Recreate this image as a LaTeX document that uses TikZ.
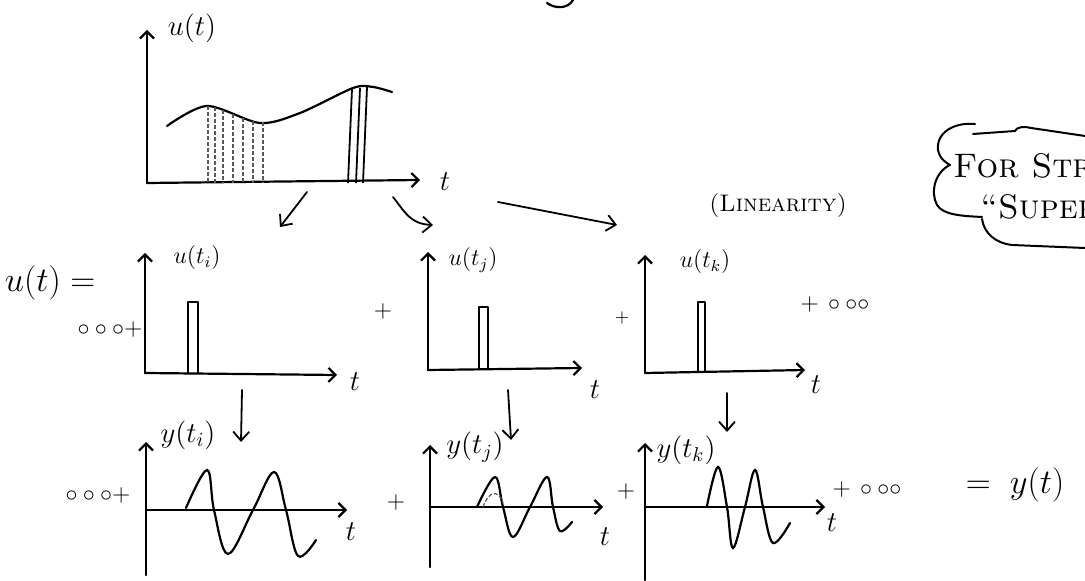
\documentclass[tikz,border=0pt]{standalone}
\usetikzlibrary{arrows.meta}
\begin{document}
\begin{tikzpicture}[x=0.5pt,y=-0.5pt,
  ln/.style={line width=1.1pt, line cap=round, line join=round},
  ax/.style={ln,-{Straight Barb[length=3.5pt,width=7pt]}},
  arr/.style={line width=0.9pt, line cap=round,-{Straight Barb[length=4.5pt,width=8pt]}},
  wave/.style={line width=1.1pt, line cap=round},
  pulse/.style={line width=0.9pt, line join=round},
  lbl/.style={inner sep=0pt,font=\fontsize{12}{12}\selectfont},
  ylbl/.style={inner sep=0pt,font=\fontsize{14}{14}\selectfont},
  tl/.style={inner sep=0pt,font=\fontsize{14}{14}\selectfont},
  big/.style={inner sep=0pt,font=\fontsize{17}{17}\selectfont},
  opn/.style={inner sep=0pt,font=\fontsize{12}{12}\selectfont},
  faint/.style={line width=0.6pt,dash pattern=on 2pt off 1pt,black!65}]
\useasboundingbox (0,0) rectangle (1085,581);
\clip (0,0) rectangle (1085,581);

% fragment at top edge
\draw[ln] (547,3) .. controls (555,9) and (568,9) .. (573,0);

% ---------- top plot ----------
\coordinate (o0) at (147,183);
\coordinate (y0) at (147,30);
\coordinate (x0) at (420,180);
\draw[ax] (o0) -- (y0);
\draw[ax] (o0) -- (x0);
\node[inner sep=0pt,font=\fontsize{15}{15}\selectfont] (ut) at (192,28) {$u(t)$};
\node[tl] (t0) at (445,182) {$t$};
\draw[wave] plot[smooth] coordinates {(167,126) (207,106) (260,123) (300,113) (353,88) (373,87) (392,92)};
\foreach \x/\y in {208/106,215/107,223/110,233/114,243/118,253/121,263/122}
  \draw[faint] (\x,\y) -- (\x,183);
\foreach \xt/\xb/\y in {352/348/89,360/356/88,367/363/87}
  \draw[line width=0.9pt] (\xt,\y) -- (\xb,183);

% arrows out of top plot
\coordinate (a1s) at (307,192); \coordinate (a1e) at (280,227);
\coordinate (a2s) at (393,197); \coordinate (a2e) at (433,225);
\coordinate (a3s) at (498,202); \coordinate (a3e) at (617,225);
\draw[arr] (a1s) -- (a1e);
\draw[arr] (a2s) .. controls (405,212) and (410,224) .. (a2e);
\draw[arr] (a3s) -- (a3e);

\node[inner sep=0pt,font=\fontsize{12}{12}\selectfont] (lin) at (778,206) {\textsc{(Linearity)}};

% cloud
\draw[ln,line width=1pt] (975,124) .. controls (955,122) and (936,132) .. (938,150)
  .. controls (940,160) and (947,163) .. (950,165)
  .. controls (935,172) and (930,192) .. (937,205)
  .. controls (943,215) and (962,216) .. (982,217);
\draw[ln,line width=1pt] (982,219) .. controls (984,233) and (995,243) .. (1012,245) -- (1085,248);
\draw[ln,line width=1pt] (973,134) -- (1015,131) .. controls (1016,127) and (1025,126) .. (1031,128) -- (1085,136);
\node[anchor=west,inner sep=0pt,font=\fontsize{17}{17}\selectfont] (c1) at (953,166) {\textsc{For Stru}};
\node[anchor=west,inner sep=0pt,font=\fontsize{17}{17}\selectfont] (c2) at (980,207) {\textsc{``Super}};

% ---------- row 2 ----------
\node[big] (ueq) at (50,283) {$u(t)=$};
\node[opn] (dl1) at (110,330) {$\circ\circ\circ{+}$};

% plot 1
\coordinate (o1) at (145,373);
\draw[ax] (o1) -- (145,253);
\draw[ax] (o1) -- (337,375);
\draw[pulse] (188,373) -- (188,302) -- (198,302) -- (198,373);
\node[lbl] (ui) at (197,258) {$u(t_i)$};
\node[tl] (t1) at (355,382) {$t$};
\node[opn] (p1) at (383,312) {$+$};

% plot 2
\coordinate (o2) at (428,370);
\draw[ax] (o2) -- (428,252);
\draw[ax] (o2) -- (582,368);
\draw[pulse] (479,370) -- (479,307) -- (488,307) -- (488,370);
\node[lbl] (uj) at (473,260) {$u(t_j)$};
\node[tl] (t2) at (595,390) {$t$};
\node[inner sep=0pt,font=\fontsize{9}{9}\selectfont] (p2) at (622,318) {$+$};

% plot 3
\coordinate (o3) at (645,373);
\draw[ax] (o3) -- (645,255);
\draw[ax] (o3) -- (805,370);
\draw[pulse] (698,373) -- (698,302) -- (705,302) -- (705,373);
\node[lbl] (uk) at (705,262) {$u(t_k)$};
\node[tl] (t3) at (816,385) {$t$};
\node[opn] (dl2) at (835,305) {${+}\,\circ\circ\circ$};

% down arrows
\coordinate (d1s) at (242,390); \coordinate (d1e) at (241,442);
\coordinate (d2s) at (508,390); \coordinate (d2e) at (511,440);
\coordinate (d3s) at (727,393); \coordinate (d3e) at (727,432);
\draw[arr] (d1s) -- (d1e);
\draw[arr] (d2s) -- (d2e);
\draw[arr] (d3s) -- (d3e);

% ---------- row 3 ----------
\node[opn] (dl3) at (98,496) {$\circ\circ\circ{+}$};

% plot B1
\draw[ax] (146,575) -- (146,442);
\draw[ax] (146,510) -- (347,510);
\draw[wave] plot[smooth,tension=0.6] coordinates {(186,508) (207,470) (214,510) (228,554) (253,510) (274,472) (286,510) (298,556) (316,540)};
\node[ylbl] (yi) at (188,435) {$y(t_i)$};
\node[tl] (t4) at (351,532) {$t$};
\node[opn] (p3) at (396,503) {$+$};

% plot B2
\draw[ax] (430,567) -- (430,445);
\draw[ax] (430,507) -- (603,507);
\draw[wave] plot[smooth,tension=0.6] coordinates {(477,507) (495,477) (503,507) (513,537) (530,507) (547,477) (553,507) (560,531) (572,522)};
\draw[faint] (483,507) .. controls (488,492) and (498,488) .. (503,503);
\node[ylbl] (yj) at (475,447) {$y(t_j)$};
\node[tl] (t5) at (605,537) {$t$};
\node[opn] (p4) at (626,492) {$+$};

% plot B3
\draw[ax] (645,580) -- (645,443);
\draw[ax] (645,507) -- (825,507);
\draw[wave] plot[smooth,tension=0.6] coordinates {(707,506) (718,467) (727,507) (733,548) (745,507) (755,470) (763,507) (773,543) (790,523)};
\node[ylbl] (yk) at (686,450) {$y(t_k)$};
\node[tl] (t6) at (832,523) {$t$};
\node[opn] (dl4) at (867,490) {${+}\,\circ\circ\circ$};
\node[inner sep=0pt,font=\fontsize{19}{19}\selectfont] (yeq) at (1015,485) {$=\;y(t)$};
\end{tikzpicture}
\end{document}
